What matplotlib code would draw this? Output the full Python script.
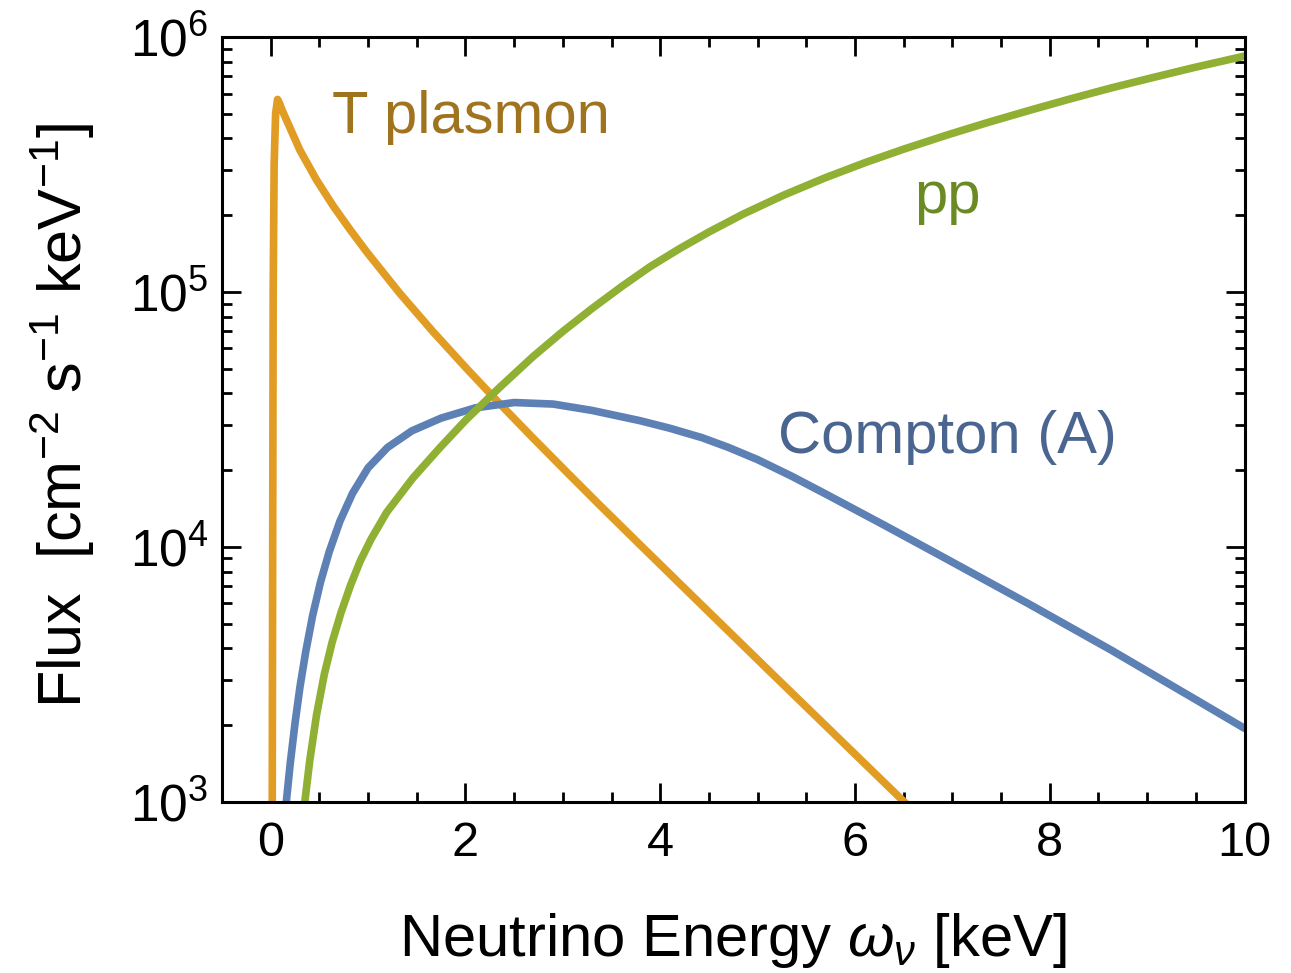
import numpy as np
import matplotlib
matplotlib.use("Agg")
from matplotlib import pyplot as plt
from matplotlib.ticker import LogLocator, MultipleLocator, NullFormatter

plt.rcParams['font.family'] = ['Liberation Sans', 'DejaVu Sans']
plt.rcParams['mathtext.fontset'] = 'custom'
plt.rcParams['mathtext.rm'] = 'Liberation Sans'
plt.rcParams['mathtext.it'] = 'Liberation Sans:italic'

# values: x in keV, log10 of flux in cm^-2 s^-1 keV^-1
plasmon_x = [0.015, 0.02, 0.025, 0.035, 0.05, 0.07, 0.09, 0.12, 0.161, 0.298, 0.469, 0.64, 0.811,
             0.983, 1.324, 1.666, 2.01, 2.35, 2.69, 3.04, 3.38, 3.79, 4.47, 5.16, 5.84, 6.49, 6.6]
plasmon_log = [2.9, 4.0, 5.0, 5.5, 5.70, 5.755, 5.74, 5.71, 5.675, 5.557, 5.44, 5.338, 5.246,
               5.158, 4.995, 4.844, 4.70, 4.562, 4.428, 4.293, 4.163, 4.009, 3.755, 3.498, 3.246, 3.005, 2.964]

compton_x = [0.15, 0.16, 0.20, 0.25, 0.30, 0.36, 0.43, 0.51, 0.60, 0.71, 0.84, 1.00, 1.20, 1.45,
             1.75, 2.10, 2.50, 2.90, 3.30, 3.79, 4.10, 4.43, 4.70, 5.0, 5.35, 5.71, 6.30, 6.87,
             7.79, 8.63, 9.48, 10.0]
compton_log = [2.95, 3.0, 3.15, 3.31, 3.45, 3.59, 3.73, 3.86, 3.98, 4.10, 4.21, 4.31, 4.39, 4.455,
               4.505, 4.545, 4.566, 4.56, 4.535, 4.495, 4.465, 4.428, 4.39, 4.342, 4.277, 4.205, 4.085,
               3.967, 3.775, 3.595, 3.405, 3.288]

pp_x = [0.34, 0.35, 0.40, 0.47, 0.55, 0.63, 0.72, 0.82, 0.92, 1.03, 1.19, 1.46, 1.74, 2.01, 2.35,
        2.69, 3.0, 3.3, 3.6, 3.9, 4.2, 4.5, 4.85, 5.27, 5.69, 6.11, 6.5, 6.95, 7.35, 7.79, 8.2,
        8.63, 9.05, 9.48, 10.0]
pp_log = [2.96, 3.0, 3.16, 3.34, 3.50, 3.625, 3.74, 3.85, 3.945, 4.03, 4.135, 4.27, 4.39, 4.50, 4.625,
          4.745, 4.845, 4.935, 5.02, 5.10, 5.17, 5.235, 5.305, 5.38, 5.447, 5.508, 5.56, 5.616, 5.663,
          5.712, 5.756, 5.80, 5.84, 5.88, 5.925]

c_orange = '#e19c24'
c_blue = '#5e81b5'
c_green = '#8fb032'

fig = plt.figure(figsize=(12.91, 9.73), dpi=100)
ax = fig.add_axes([0.172, 0.176, 0.792, 0.786])

for xs, ls, c in [(plasmon_x, plasmon_log, c_orange),
                  (compton_x, compton_log, c_blue),
                  (pp_x, pp_log, c_green)]:
    ax.plot(xs, 10 ** np.array(ls), color=c, lw=5.5,
            solid_joinstyle='round', solid_capstyle='round')

ax.set_yscale('log')
ax.set_xlim(-0.5, 10)
ax.set_ylim(1e3, 1e6)

ax.xaxis.set_major_locator(MultipleLocator(2))
ax.xaxis.set_minor_locator(MultipleLocator(0.5))
ax.yaxis.set_major_locator(LogLocator(base=10, numticks=10))
ax.yaxis.set_minor_locator(LogLocator(base=10, subs=np.arange(2, 10), numticks=10))
ax.yaxis.set_minor_formatter(NullFormatter())

ax.tick_params(which='both', direction='in', top=True, right=True, width=2)
ax.tick_params(which='major', length=14)
ax.tick_params(which='minor', length=7)
ax.tick_params(axis='x', pad=14, labelsize=35)
ax.tick_params(axis='y', pad=10, labelsize=37)
for sp in ax.spines.values():
    sp.set_linewidth(2.2)

ax.set_xlabel(r'Neutrino Energy $\omega_\nu$ [keV]', fontsize=43, labelpad=32)
ax.set_ylabel(r'Flux  [cm$^{-2}$ s$^{-1}$ keV$^{-1}$]', fontsize=44)
ax.yaxis.set_label_coords(-0.122, 0.505)

ax.text(2.06, 10**5.686, 'T plasmon', color='#a0731f', fontsize=43, ha='center', va='center')
ax.text(6.95, 10**5.37, 'pp', color='#6b8a22', fontsize=43, ha='center', va='center')
ax.text(6.95, 10**4.43, 'Compton (A)', color='#4a6690', fontsize=43, ha='center', va='center')

fig.savefig('out.png', dpi=100)
